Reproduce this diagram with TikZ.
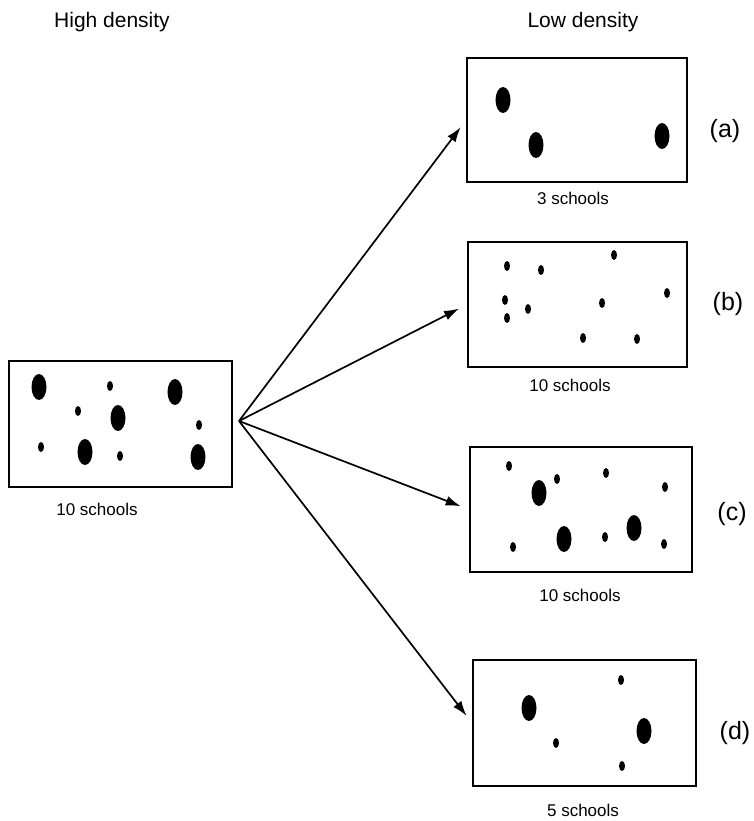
\documentclass[tikz,border=0pt]{standalone}
\usepackage{fontspec}
\setmainfont{Liberation Sans}
\usetikzlibrary{arrows.meta}
\begin{document}
\begin{tikzpicture}[x=1pt, y=-1pt, >={Latex[length=15pt,width=10pt]},
    area/.style={draw, line width=1.8pt, inner sep=0pt},
    count/.style={font=\fontsize{17}{19}\selectfont},
    tag/.style={font=\fontsize{25}{28}\selectfont},
    title/.style={font=\fontsize{21}{23}\selectfont}]
    \useasboundingbox (0,0) rectangle (753,821);
    % Titel
    \node[title] (high) at (112,22) {High density};
    \node[title] (low) at (583,22) {Low density};

    % Gebiete
    \node[area, minimum width=223pt, minimum height=126pt] (hd) at (120.5,424) {};
    \node[area, minimum width=220pt, minimum height=124pt] (ld_a) at (577,120) {};
    \node[area, minimum width=219pt, minimum height=125pt] (ld_b) at (577.5,304.5) {};
    \node[area, minimum width=222pt, minimum height=125pt] (ld_c) at (581,509.5) {};
    \node[area, minimum width=223pt, minimum height=126pt] (ld_d) at (584.5,723) {};

    \node[count] (hd_n) at (97,509) {10 schools};
    \node[count] (ld_a_n) at (573,198) {3 schools};
    \node[count] (ld_b_n) at (570,385) {10 schools};
    \node[count] (ld_c_n) at (580,595) {10 schools};
    \node[count] (ld_d_n) at (583,810) {5 schools};

    \node[tag] (tag_a) at (725,131) {(a)};
    \node[tag] (tag_b) at (728,304) {(b)};
    \node[tag] (tag_c) at (732,514) {(c)};
    \node[tag] (tag_d) at (735,733) {(d)};

    % Schulen: gross und klein
    \foreach \x/\y in {39/387, 175/392, 118/418, 85/452, 198/457,
                       503/100, 536/145, 662/136,
                       539/493, 564/539, 634/528,
                       529/708, 644/731}
        \fill (\x,\y) ellipse (7.5pt and 13pt);
    \foreach \x/\y in {110/386, 78/411, 199/425, 41/447, 120/456,
                       507/266, 541/270, 614/255, 505/300, 507/318,
                       528/309, 602/303, 667/293, 583/338, 637/339,
                       509/466, 557/479, 606/473, 665/487, 513/547,
                       605/537, 664/544,
                       621/680, 556/743, 622/766}
        \fill (\x,\y) ellipse (3pt and 5pt);

    % Pfeile
    \coordinate (src) at (239,421);
    \foreach \t in {ld_a, ld_b, ld_c, ld_d}
        \draw[->, line width=1.7pt, shorten >=9pt] (src) -- (\t.west);
\end{tikzpicture}
\end{document}
